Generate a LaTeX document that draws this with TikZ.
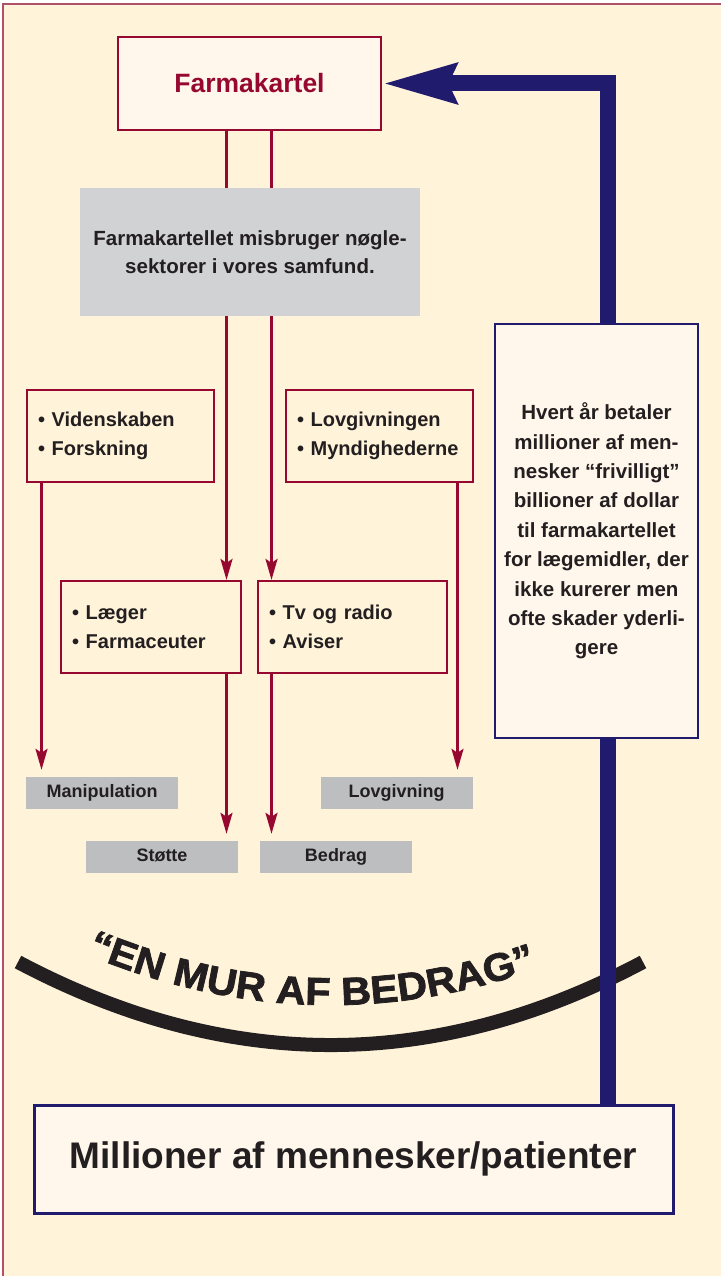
\documentclass[tikz,border=0pt]{standalone}
\usepackage{fontspec}
\setmainfont{Liberation Sans}
\newfontfamily\murfont{Liberation Sans}[FakeStretch=1.06,BoldFeatures={FakeBold=2}]
\usetikzlibrary{arrows.meta,decorations.text}

\definecolor{creme}{RGB}{255,243,218}
\definecolor{lyscreme}{RGB}{255,247,235}
\definecolor{farmarod}{RGB}{150,8,48}
\definecolor{ramme}{RGB}{176,80,106}
\definecolor{marine}{RGB}{33,27,110}
\definecolor{graa}{RGB}{209,210,212}
\definecolor{moerkgraa}{RGB}{188,190,192}
\definecolor{tekst}{RGB}{35,31,32}

\newcommand{\overskrift}{\bfseries\fontsize{26.5}{30}\selectfont}
\newcommand{\punkttekst}{\bfseries\fontsize{20.5}{28.5}\selectfont}
\newcommand{\listetekst}{\bfseries\fontsize{20}{28.5}\selectfont}
\newcommand{\etikettekst}{\bfseries\fontsize{18}{20}\selectfont}
\newcommand{\blaatekst}{\bfseries\fontsize{20.5}{29.4}\selectfont}
\newcommand{\stortekst}{\bfseries\fontsize{37}{42}\selectfont}
\newcommand{\murtekst}{\murfont\bfseries\fontsize{39}{39}\selectfont}

\begin{document}
\begin{tikzpicture}[x=1pt,y=-1pt,
        boks/.style={
        draw=farmarod, line width=2.2pt,
        fill=lyscreme, text=tekst},
        punkt/.style={boks, fill=creme, font=\listetekst,
        align=left, inner xsep=11pt, minimum height=92pt},
        graaboks/.style={fill=graa, text=tekst, font=\punkttekst,
        align=center, minimum width=340pt, minimum height=128pt},
        etiket/.style={fill=moerkgraa, text=tekst, font=\etikettekst,
        inner sep=0pt, text height=13pt, text depth=4pt,
        minimum width=152pt, minimum height=32pt},
        rodlinje/.style={draw=farmarod, line width=2.6pt},
        rodpil/.style={rodlinje, -{Stealth[length=21pt,width=12pt,inset=4pt]}},
        marinelinje/.style={draw=marine, line width=16pt, line join=miter},
        ]

        \useasboundingbox (0,0) rectangle (720,1276);
        \fill[white] (0,0) rectangle (720,1276);
        \draw[ramme, line width=1.5pt, fill=creme] (3,4) rectangle (740,1300);

        % muren
        \draw[tekst, line width=14pt] (18,962) .. controls (226.7,1072.7) and (435,1072.7) .. (643,962);
        \path[decorate, decoration={text along path, text color=tekst,
            text align={left indent=76pt},
            text={|\murtekst|“EN MUR AF BEDRAG”}}]
            (18,922) .. controls (226.7,1032.7) and (435,1032.7) .. (643,922);

        \node (farm) [boks, font=\overskrift, text=farmarod,
            minimum width=263pt, minimum height=93pt] at (249.5,83.5) {Farmakartel};
        \node (misbrug) [graaboks] at (250,252) {Farmakartellet misbruger nøgle-\\sektorer i vores samfund.};

        \node (viden) [punkt, text width=165pt] at (120.5,436) {• Videnskaben\\• Forskning};
        \node (lov) [punkt, text width=165pt] at (379.5,436) {• Lovgivningen\\\mbox{• Myndighederne}};
        \node (laeger) [punkt, text width=158pt] at (151,627) {• Læger\\• Farmaceuter};
        \node (medier) [punkt, text width=167pt] at (352.5,627) {• Tv og radio\\• Aviser};

        \node (manip) [etiket] at (102,793) {Manipulation};
        \node (lovgiv) [etiket] at (396.5,793) {Lovgivning};
        \node (stotte) [etiket] at (162,857) {Støtte};
        \node (bedrag) [etiket] at (336,857) {Bedrag};

        \node (betaler) [boks, draw=marine, line width=2pt, font=\blaatekst, align=center,
            minimum width=203pt, minimum height=414pt] at (596.5,531)
            {Hvert år betaler\\millioner af men-\\nesker “frivilligt”\\billioner af dollar\\til farmakartellet\\for lægemidler, der\\ikke kurerer men\\ofte skader yderli-\\gere};
        \node (folk) [boks, draw=marine, line width=3pt, font=\stortekst,
            minimum width=639pt, minimum height=108pt] at (353.5,1159) {Millioner af mennesker/patienter};

        \coordinate (kL) at (226.5,0);
        \coordinate (kR) at (271.5,0);
        \coordinate (kV) at (41.5,0);
        \coordinate (kH) at (457.5,0);
        \coordinate (kN) at (607.5,0);

        \draw[rodlinje] (farm.south -| kL) -- (misbrug.north -| kL);
        \draw[rodlinje] (farm.south -| kR) -- (misbrug.north -| kR);
        \draw[rodpil] (misbrug.south -| kL) -- (laeger.north -| kL);
        \draw[rodpil] (misbrug.south -| kR) -- (medier.north -| kR);
        \draw[rodpil, shorten >=7pt] (viden.south -| kV) -- (manip.north -| kV);
        \draw[rodpil, shorten >=7pt] (lov.south -| kH) -- (lovgiv.north -| kH);
        \draw[rodpil, shorten >=7pt] (laeger.south -| kL) -- (stotte.north -| kL);
        \draw[rodpil, shorten >=7pt] (medier.south -| kR) -- (bedrag.north -| kR);

        \draw[marinelinje] (folk.north -| kN) -- (betaler.south -| kN);
        \draw[marinelinje, -{Stealth[length=73pt,width=38pt,inset=7pt]}]
            (betaler.north -| kN) |- (farm.east);
    \end{tikzpicture}
\end{document}
